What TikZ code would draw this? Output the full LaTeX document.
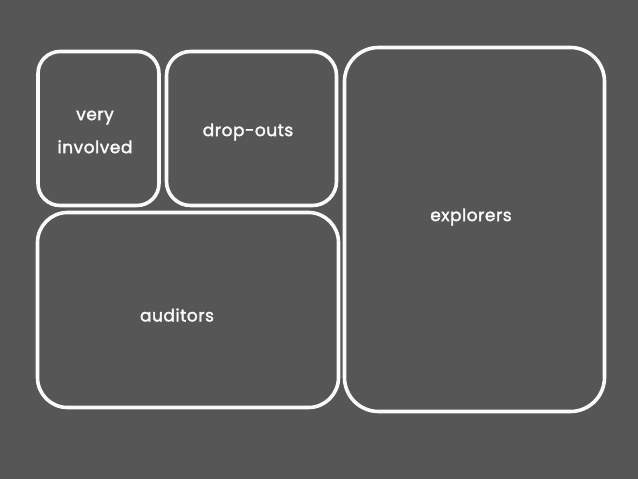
\documentclass[tikz,border=0pt]{standalone}
\usepackage{fontspec}
\setmainfont{Poppins}
\newfontfamily\boxfont{Poppins}[FakeBold=2, LetterSpace=3]
\usepackage{tikz}
\usetikzlibrary{backgrounds}
\definecolor{my_slate}{HTML}{565656}
\definecolor{my_white}{HTML}{FAFAFA}

\begin{document}
\begin{tikzpicture}[
    x=1pt, y=-1pt,
    show background rectangle,
    background rectangle/.style={fill=my_slate},
    inner frame sep=0pt,
    segment/.style={draw=my_white, line width=3.6pt, inner sep=0pt},
    caption/.style={text=my_white, font=\boxfont\fontsize{17}{20}\selectfont, align=center}
]
\useasboundingbox (0, 0) rectangle (638, 479);

%% ---- Segmente (Rahmen) ----
\node[segment, rounded corners=22pt, minimum width=121pt, minimum height=154pt]
    (involved) at (98.5, 128.5) {};
\node[segment, rounded corners=24pt, minimum width=170pt, minimum height=154pt]
    (dropouts) at (251.5, 128.5) {};
\node[segment, rounded corners=34pt, minimum width=260pt, minimum height=364pt]
    (explorers) at (474.5, 229.5) {};
\node[segment, rounded corners=30pt, minimum width=301pt, minimum height=195pt]
    (auditors) at (188, 310) {};

%% ---- Beschriftungen ----
\node[caption] (involvedtext) at (95, 132) {very\\[13pt]involved};
\node[caption] (dropoutstext) at (248, 132) {drop-outs};
\node[caption] (explorerstext) at (471, 217) {explorers};
\node[caption] (auditorstext) at (177, 315) {auditors};

\end{tikzpicture}
\end{document}
